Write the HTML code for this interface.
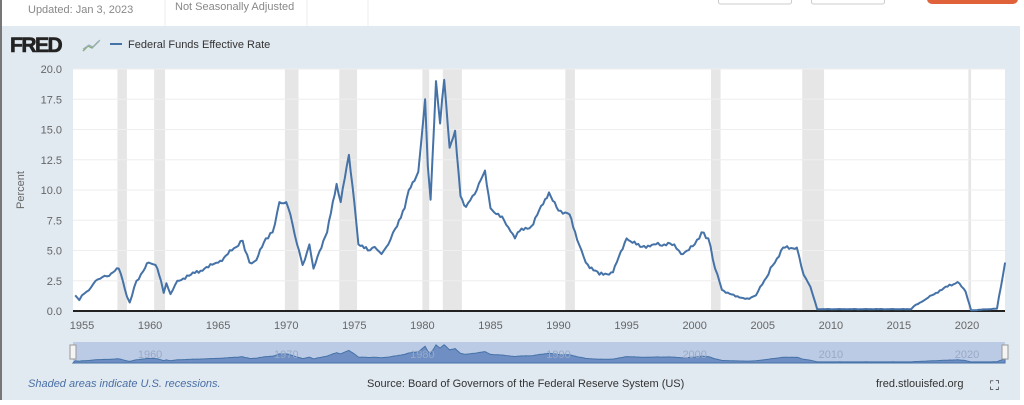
<!DOCTYPE html>
<html><head><meta charset="utf-8"><style>
body{margin:0;width:1024px;height:400px;overflow:hidden;background:#fff;font-family:"Liberation Sans",sans-serif}
</style></head><body>
<svg id="s" width="1024" height="400" xmlns="http://www.w3.org/2000/svg" font-family="Liberation Sans, sans-serif">
<rect x="0" y="0" width="1024" height="400" fill="#fff"/>
<rect x="0" y="26" width="1020" height="374" fill="#e1e9f1"/>
<rect x="0" y="0" width="2" height="400" fill="#777"/>
<line x1="165" y1="0" x2="165" y2="26" stroke="#eee"/>
<line x1="307" y1="0" x2="307" y2="26" stroke="#eee"/>
<line x1="368" y1="0" x2="368" y2="26" stroke="#eee"/>
<text x="28" y="13" font-size="11" fill="#888">Updated: Jan 3, 2023</text>
<text x="175" y="10" font-size="11" fill="#888">Not Seasonally Adjusted</text>
<rect x="718.5" y="-5" width="73" height="9" rx="2" fill="#fff" stroke="#ccc"/>
<rect x="811.5" y="-5" width="73" height="9" rx="2" fill="#fff" stroke="#ccc"/>
<rect x="927" y="-8" width="91" height="12" rx="5" fill="#e0623a"/>
<text x="10" y="52" font-size="21" font-weight="bold" fill="#222" letter-spacing="-1.5" stroke="#222" stroke-width="0.6">FRED</text>
<polyline points="83,51 88,46 92,48 99,41" fill="none" stroke="#8bb07a" stroke-width="1.5"/>
<polyline points="83,49 89,45 93,47 100,40" fill="none" stroke="#9ab" stroke-width="1"/>
<line x1="110" y1="44" x2="122" y2="44" stroke="#4572a7" stroke-width="2"/>
<text x="128" y="48" font-size="11" fill="#333">Federal Funds Effective Rate</text>
<rect x="73" y="69" width="932" height="242" fill="#fff"/>
<g id="rec" fill="#e6e6e6"></g>
<g id="grid" stroke="#eee" stroke-width="1"></g>
<g id="yl" font-size="11" fill="#666" text-anchor="end"></g>
<text transform="translate(24,190) rotate(-90)" font-size="11" fill="#666" text-anchor="middle">Percent</text>
<line x1="73" y1="311" x2="1005" y2="311" stroke="#222" stroke-width="2"/>
<g id="xl" font-size="11" fill="#666" text-anchor="middle"></g>
<path id="line" fill="none" stroke="#4572a7" stroke-width="2" stroke-linejoin="round"/>
<rect x="73" y="342" width="932" height="21" fill="#bccbe5"/>
<path id="nav" fill="#6f8fc4" stroke="#4572a7" stroke-width="1"/>
<g id="nl" font-size="11" fill="#99a9c6" text-anchor="middle"></g>
<rect x="70" y="345" width="6" height="14" fill="#f4f4f4" stroke="#999"/>
<rect x="1002" y="345" width="6" height="14" fill="#f4f4f4" stroke="#999"/>
<text x="28" y="387" font-size="11" font-style="italic" fill="#4a6fa5">Shaded areas indicate U.S. recessions.</text>
<text x="367" y="387" font-size="11" fill="#333">Source: Board of Governors of the Federal Reserve System (US)</text>
<text x="876" y="387" font-size="11" fill="#333">fred.stlouisfed.org</text>
<text x="990" y="390" font-size="13" fill="#222">⛶</text>
</svg>
<script>
var NS="http://www.w3.org/2000/svg";
function X(y){return 82+(y-1955)*885/65}
function Y(v){return 311-v*12.1}
function el(p,t,a,txt){var e=document.createElementNS(NS,t);for(var k in a)e.setAttribute(k,a[k]);if(txt)e.textContent=txt;document.getElementById(p).appendChild(e)}
var rec=[[1957.6,1958.3],[1960.3,1961.1],[1969.9,1970.9],[1973.9,1975.2],[1980.0,1980.5],[1981.5,1982.9],[1990.5,1991.2],[2001.2,2001.9],[2007.9,2009.5],[2020.1,2020.3]];
rec.forEach(function(r){el("rec","rect",{x:X(r[0]),y:69,width:Math.max(2,X(r[1])-X(r[0])),height:242})});
for(var i=1;i<=8;i++){el("grid","line",{x1:73,x2:1005,y1:Y(i*2.5),y2:Y(i*2.5)})}
for(var i=0;i<=8;i++){el("yl","text",{x:62,y:Y(i*2.5)+4},(i*2.5).toFixed(1))}
for(var y=1955;y<=2020;y+=5){el("xl","text",{x:X(y),y:329},String(y))}
[1960,1970,1980,1990,2000,2010,2020].forEach(function(y){el("nl","text",{x:X(y),y:358},String(y))});
var d=[[1954.5,1.3],[1954.8,0.9],[1955,1.3],[1955.5,1.7],[1956,2.5],[1956.5,2.8],[1957,2.9],[1957.7,3.5],[1958,2.5],[1958.3,1.2],[1958.5,0.7],[1959,2.5],[1959.5,3.3],[1959.9,4.0],[1960.4,3.8],[1960.8,2.5],[1961,1.5],[1961.2,2.3],[1961.5,1.4],[1962,2.5],[1963,3.0],[1964,3.5],[1965,4.0],[1966,5.0],[1966.8,5.8],[1967.3,4.0],[1967.8,4.2],[1968.5,6.0],[1969,6.5],[1969.5,9.0],[1970,9.0],[1970.3,8.0],[1970.8,5.5],[1971.2,3.8],[1971.7,5.5],[1972,3.5],[1972.3,4.5],[1973,6.5],[1973.7,10.5],[1974,9.0],[1974.6,12.9],[1975,9.0],[1975.3,5.5],[1976,5.0],[1976.5,5.3],[1977,4.7],[1977.5,5.5],[1978,6.8],[1978.7,8.5],[1979,10.0],[1979.7,11.5],[1979.9,13.8],[1980.2,17.5],[1980.4,12],[1980.6,9.2],[1981,19.0],[1981.3,15.5],[1981.6,19.1],[1982,13.5],[1982.4,14.9],[1982.8,9.5],[1983.2,8.6],[1984,10.0],[1984.6,11.6],[1985,8.5],[1986,7.5],[1986.8,6.0],[1987,6.5],[1988,7.0],[1989.3,9.8],[1990,8.3],[1990.8,8.0],[1991.5,5.5],[1992,4.0],[1993,3.0],[1994,3.2],[1995,6.0],[1996,5.3],[1997,5.5],[1998.5,5.5],[1999,4.7],[2000,5.5],[2000.5,6.5],[2001,6.0],[2001.5,3.5],[2002,1.75],[2003,1.2],[2004,1.0],[2004.5,1.3],[2006.5,5.25],[2007.5,5.25],[2008,3.0],[2008.5,2.0],[2009,0.15],[2015.9,0.15],[2016.1,0.4],[2017,1.0],[2018,1.7],[2019.3,2.4],[2019.9,1.6],[2020.3,0.05],[2022.2,0.2],[2022.8,4.0]];
// densify with small deterministic noise
var pts=[];
for(var i=0;i<d.length-1;i++){var a=d[i],b=d[i+1];var steps=Math.max(1,Math.round((b[0]-a[0])/0.15));
for(var k=0;k<steps;k++){var t=k/steps;var yr=a[0]+(b[0]-a[0])*t;var v=a[1]+(b[1]-a[1])*t;
var amp=(yr>2008.9&&yr<2016)||(yr>2020.2&&yr<2022.2)?0.02:0.18*Math.min(1,v/3);
if(k>0)v+=amp*Math.sin(yr*37.1)*Math.cos(yr*11.3);pts.push([yr,Math.max(0.03,v)])}}
pts.push(d[d.length-1]);
var p="",n="M73,363";
pts.forEach(function(q,i){var x=Math.max(73,X(q[0]));p+=(i?"L":"M")+x.toFixed(1)+","+Y(q[1]).toFixed(1);n+="L"+x.toFixed(1)+","+(362-q[1]*0.9).toFixed(1)});
n+="L1005,363Z";
document.getElementById("line").setAttribute("d",p);
document.getElementById("nav").setAttribute("d",n);
</script>
</body></html>
